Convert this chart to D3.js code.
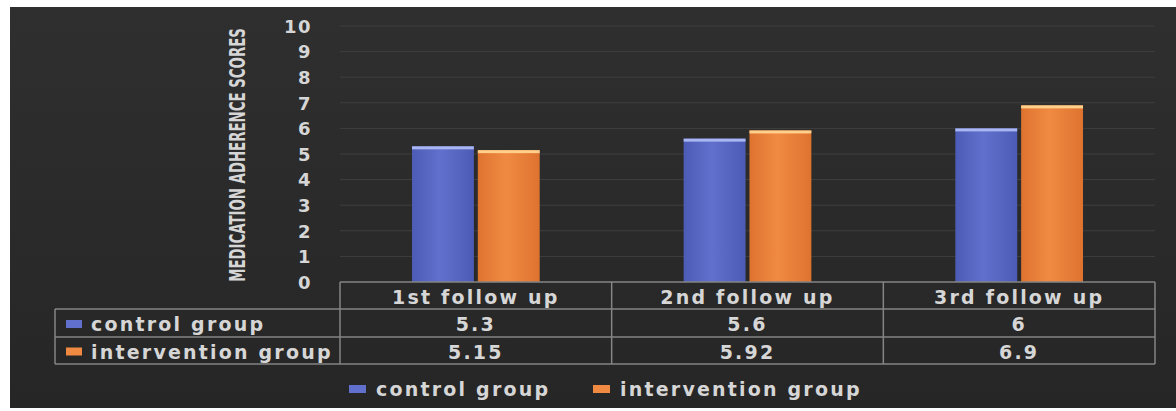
<!DOCTYPE html>
<html>
<head>
<meta charset="utf-8">
<script src="https://cdn.jsdelivr.net/npm/d3@7/dist/d3.min.js"></script>
<style>
  html, body { margin: 0; padding: 0; background: #ffffff; }
  svg { display: block; }
  text { font-family: "DejaVu Sans", sans-serif; font-weight: bold; fill: #d6d6d6; }
</style>
</head>
<body>
<svg id="chart" width="1176" height="411"></svg>
<script>
// Follow-up points and the two study groups
const categories = ["1st follow up", "2nd follow up", "3rd follow up"];
const seriesNames = ["control group", "intervention group"];
const controlValues = [5.3, 5.6, 6];
const interventionValues = [5.15, 5.92, 6.9];
const tableLabels = [["5.3", "5.6", "6"], ["5.15", "5.92", "6.9"]];
const yTicks = [0, 1, 2, 3, 4, 5, 6, 7, 8, 9, 10];
const yTitle = "MEDICATION ADHERENCE SCORES";

const seriesValues = [controlValues, interventionValues];
const seriesColors = [
  { top: "#aab6f2", body0: "#6070cc", body1: "#4c5cb6" },
  { top: "#ffcf8c", body0: "#f08a42", body1: "#de7330" }
];

const svg = d3.select("#chart");
const defs = svg.append("defs");

// Dark panel background
const bg = defs.append("linearGradient").attr("id", "bg")
  .attr("x1", 0).attr("y1", 0).attr("x2", 0).attr("y2", 1);
bg.append("stop").attr("offset", "0%").attr("stop-color", "#2f2f2f");
bg.append("stop").attr("offset", "100%").attr("stop-color", "#262626");
svg.append("rect").attr("x", 10).attr("y", 7).attr("width", 1166).attr("height", 401)
  .attr("fill", "url(#bg)");

// Bar gradients
seriesColors.forEach((c, i) => {
  const g = defs.append("linearGradient").attr("id", "bar" + i)
    .attr("x1", 0).attr("y1", 0).attr("x2", 1).attr("y2", 0);
  g.append("stop").attr("offset", "0%").attr("stop-color", c.body1);
  g.append("stop").attr("offset", "45%").attr("stop-color", c.body0);
  g.append("stop").attr("offset", "100%").attr("stop-color", c.body1);
});

// Scales
const plotLeft = 340, plotRight = 1155;
const x = d3.scaleBand().domain(categories).range([plotLeft, plotRight]).paddingInner(0).paddingOuter(0);
const y = d3.scaleLinear().domain([0, 10]).range([282, 26]);
const groupFrac = 0.47;
const x1 = d3.scaleBand().domain(seriesNames)
  .range([0, x.bandwidth() * groupFrac]).paddingInner(0.06);
const groupOffset = (x.bandwidth() * (1 - groupFrac)) / 2;

// Gridlines
svg.append("g").selectAll("line").data(yTicks.filter(t => t > 0)).join("line")
  .attr("x1", plotLeft).attr("x2", plotRight)
  .attr("y1", d => y(d)).attr("y2", d => y(d))
  .attr("stroke", "#3f3f3f").attr("stroke-width", 1);

// Y axis tick labels
const yAxis = d3.axisLeft(y).tickValues(yTicks).tickSize(0).tickPadding(0).tickFormat(d3.format("d"));
const yg = svg.append("g").attr("transform", "translate(312,0)").call(yAxis);
yg.select(".domain").remove();
yg.selectAll("text")
  .attr("fill", "#d6d6d6")
  .style("font-family", "'DejaVu Sans', sans-serif")
  .style("font-weight", "bold")
  .style("font-size", "18px")
  .style("letter-spacing", "1.5px")
  .attr("dy", "0.35em");

// Y axis title: condensed bold caps, squeezed to span the value range
const titleSpan = 254;
const titleG = svg.append("g");
const title = titleG.append("text")
  .attr("text-anchor", "middle")
  .attr("dominant-baseline", "central")
  .style("font-family", "'Liberation Sans Narrow', 'DejaVu Sans Condensed', sans-serif")
  .style("font-size", "21px")
  .text(yTitle);
const naturalLen = title.node().getComputedTextLength();
titleG.attr("transform",
  `translate(237,${(y(0) + y(10)) / 2 + 1}) rotate(-90) scale(${titleSpan / naturalLen},1)`);

// Bars
const groups = svg.append("g").selectAll("g").data(categories).join("g")
  .attr("transform", d => `translate(${x(d) + groupOffset},0)`);
seriesNames.forEach((s, si) => {
  groups.append("rect")
    .attr("x", x1(s))
    .attr("y", (d, ci) => y(seriesValues[si][ci]))
    .attr("width", x1.bandwidth())
    .attr("height", (d, ci) => y(0) - y(seriesValues[si][ci]))
    .attr("fill", `url(#bar${si})`);
  groups.append("rect")
    .attr("x", x1(s))
    .attr("y", (d, ci) => y(seriesValues[si][ci]))
    .attr("width", x1.bandwidth())
    .attr("height", 3)
    .attr("fill", seriesColors[si].top);
});

// Data table under the plot
const tableStroke = "#858585";
const tableLeft = 55;
const rowTop = [282, 309, 337, 364];
const tbl = svg.append("g").attr("stroke", tableStroke).attr("stroke-width", 1.5).attr("fill", "none");
// horizontal rules
tbl.append("line").attr("x1", plotLeft).attr("x2", plotRight).attr("y1", rowTop[0]).attr("y2", rowTop[0]);
[1, 2, 3].forEach(r => {
  tbl.append("line").attr("x1", tableLeft).attr("x2", plotRight).attr("y1", rowTop[r]).attr("y2", rowTop[r]);
});
// vertical rules
tbl.append("line").attr("x1", tableLeft).attr("x2", tableLeft).attr("y1", rowTop[1]).attr("y2", rowTop[3]);
[plotLeft, ...categories.map(c => x(c) + x.bandwidth())].forEach(vx => {
  tbl.append("line").attr("x1", vx).attr("x2", vx).attr("y1", rowTop[0]).attr("y2", rowTop[3]);
});

const cellFont = sel => sel.style("font-size", "19px").style("letter-spacing", "2.2px");

// header row
svg.append("g").selectAll("text").data(categories).join("text")
  .attr("x", d => x(d) + x.bandwidth() / 2)
  .attr("y", (rowTop[0] + rowTop[1]) / 2 + 1)
  .attr("text-anchor", "middle").attr("dominant-baseline", "central")
  .call(cellFont)
  .text(d => d);

// value rows
tableLabels.forEach((row, ri) => {
  const cy = (rowTop[ri + 1] + rowTop[ri + 2]) / 2 + 1;
  svg.append("g").selectAll("text").data(row).join("text")
    .attr("x", (d, ci) => x(categories[ci]) + x.bandwidth() / 2)
    .attr("y", cy)
    .attr("text-anchor", "middle").attr("dominant-baseline", "central")
    .call(cellFont)
    .text(d => d);
  svg.append("rect").attr("x", 66).attr("y", cy - 4).attr("width", 16).attr("height", 8)
    .attr("fill", seriesColors[ri].body0);
  svg.append("text").attr("x", 91).attr("y", cy)
    .attr("dominant-baseline", "central")
    .call(cellFont)
    .text(seriesNames[ri]);
});

// Legend
const legendX = [349, 593];
const legendY = 389;
seriesNames.forEach((s, i) => {
  svg.append("rect").attr("x", legendX[i]).attr("y", legendY - 4).attr("width", 17).attr("height", 8)
    .attr("fill", seriesColors[i].body0);
  svg.append("text").attr("x", legendX[i] + 27).attr("y", legendY)
    .attr("dominant-baseline", "central")
    .call(cellFont)
    .text(s);
});
</script>
</body>
</html>
